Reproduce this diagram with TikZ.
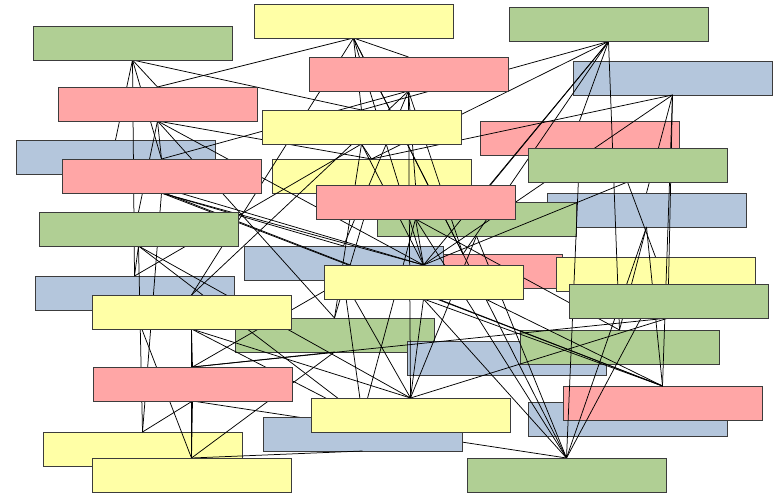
\documentclass[tikz,border=0pt]{standalone}
\pgfdeclarelayer{early}\pgfdeclarelayer{bgl}\pgfdeclarelayer{edl}
\pgfsetlayers{early,bgl,edl,main}
\definecolor{cg}{RGB}{176,207,148}
\definecolor{cy}{RGB}{255,255,166}
\definecolor{cr}{RGB}{255,166,166}
\definecolor{cb}{RGB}{180,198,220}
\definecolor{cline}{RGB}{60,60,60}
\begin{document}
\begin{tikzpicture}[x=1pt,y=-1pt,
  box/.style={draw=cline,line width=0.8pt,minimum width=199pt,minimum height=34pt,inner sep=0pt,outer sep=0pt},
  gb/.style={box,fill=cg}, yb/.style={box,fill=cy}, rb/.style={box,fill=cr}, bb/.style={box,fill=cb},
  ln/.style={draw=black,line width=0.75pt}]
\begin{pgfonlayer}{early}
\fill[white] (0,0) rectangle (782,495);
\end{pgfonlayer}
\useasboundingbox (0,0) rectangle (782,495);
% background boxes (lines drawn over them)
\begin{pgfonlayer}{bgl}
\node[rb] (n18) at (463,271) {};
\node[bb] (n17) at (343.5,263) {};
\node[bb] (n5) at (672.5,78) {};
\node[rb] (n8) at (579.5,138) {};
\node[bb] (n9) at (115.5,157) {};
\node[yb] (n12) at (371.5,176) {};
\node[bb] (n14) at (646.5,210) {};
\node[gb] (n15) at (476.5,219) {};
\node[yb] (n19) at (655.5,274) {};
\node[bb] (n21) at (134.5,293) {};
\node[gb] (n24) at (334.5,335) {};
\node[bb] (n26) at (506.5,358) {};
\node[gb] (n25) at (619.5,347) {};
\node[bb] (n29) at (627.5,419) {};
\node[rb] (n28) at (662.5,403) {};
\node[bb] (n31) at (362.5,434) {};
\node[yb] (n32) at (142.5,449) {};
\end{pgfonlayer}
% foreground boxes
\node[gb] (n1) at (132.5,43) {};
\node[yb] (n2) at (353.5,21) {};
\node[gb] (n3) at (608.5,24.5) {};
\node[rb] (n4) at (408.5,74) {};
\node[rb] (n6) at (157.5,104) {};
\node[yb] (n7) at (361.5,127) {};
\node[gb] (n10) at (627.5,165) {};
\node[rb] (n11) at (161.5,176) {};
\node[rb] (n13) at (415.5,202) {};
\node[gb] (n16) at (138.5,229) {};
\node[yb] (n20) at (423.5,282) {};
\node[gb] (n22) at (668.5,301) {};
\node[yb] (n23) at (191.5,312) {};
\node[rb] (n27) at (192.5,384) {};
\node[yb] (n30) at (410.5,415) {};
\node[yb] (n33) at (191.5,475) {};
\node[gb] (n34) at (566.5,475) {};
% connectors
\begin{pgfonlayer}{early}
\draw[ln] (n27.south) -- (n34.north);
\end{pgfonlayer}
\begin{pgfonlayer}{edl}
\foreach \s/\t in {1/6,1/9,1/11,1/21,1/7,
  2/6,2/4,2/23,2/7,2/20,2/18,2/34,
  3/7,3/12,3/15,3/20,3/18,3/8,3/25,
  4/11,4/17,4/18,4/23,4/13,4/30,
  5/12,5/20,5/14,5/22,5/28,
  6/11,6/16,6/24,6/20,6/12,
  7/12,7/21,7/24,7/20,
  8/34,9/20,9/28,10/19,10/20,
  11/32,11/17,11/20,11/28,
  12/24,
  13/20,13/31,13/25,13/34,
  14/34,14/25,14/28,
  15/34,15/30,
  16/21,16/32,16/31,16/30,
  17/27,17/31,17/30,
  18/28,19/34,
  20/34,20/28,20/30,
  21/33,22/30,22/27,
  23/27,23/33,23/31,23/30,
  24/27,24/33,
  27/32,27/33,31/33}
  \draw[ln] (n\s.south) -- (n\t.north);
\end{pgfonlayer}
\end{tikzpicture}
\end{document}
